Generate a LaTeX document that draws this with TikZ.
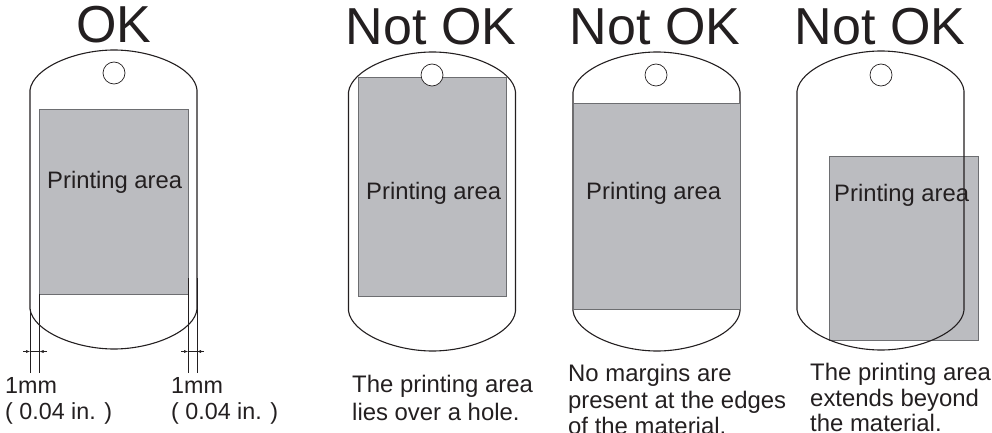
\documentclass[tikz,border=0pt]{standalone}
\usepackage{fontspec}
\setmainfont{Liberation Sans}
\usetikzlibrary{arrows.meta}
\definecolor{ink}{HTML}{231F20}
\definecolor{areafill}{HTML}{BBBCC0}
\definecolor{areaedge}{HTML}{6D6E71}
\tikzset{
  x=1pt,y=-1pt,
  outline/.style={draw=ink,line width=1.1pt},
  area/.style={fill=areafill,draw=areaedge,line width=1pt},
  holeshape/.style={draw=ink,fill=white,line width=.7pt},
  title/.style={anchor=base,inner sep=0,text=ink,font=\fontsize{52}{52}\selectfont},
  arealabel/.style={anchor=base west,inner sep=0,text=ink,font=\fontsize{23.8}{23.8}\selectfont},
  caption/.style={anchor=base west,inner sep=0,text=ink,font=\fontsize{23.9}{23.9}\selectfont},
  dimlabel/.style={anchor=base west,inner sep=0,text=ink,font=\fontsize{23.3}{23.3}\selectfont},
  guide/.style={draw=ink,line width=.6pt},
  dimtick/.style={draw=ink,line width=.5pt,-{Latex[length=4pt,width=3pt]}},
  dimbar/.style={draw=ink,line width=.5pt},
}
\newcommand{\tagshape}[2]{% left x, top y
  \draw[outline] (#1,#2+40) .. controls (#1+3,#2+18) and (#1+45,#2) .. (#1+84,#2)
    .. controls (#1+123,#2) and (#1+165,#2+18) .. (#1+167,#2+40)
    -- (#1+167,#2+259) .. controls (#1+165,#2+281) and (#1+123,#2+299) .. (#1+84,#2+299)
    .. controls (#1+45,#2+299) and (#1+3,#2+281) .. (#1,#2+259) -- cycle;
}
\begin{document}
\begin{tikzpicture}
\useasboundingbox (0,0) rectangle (992,433);
% OK
\node[title] (t1) at (114,43) {OK};
\tagshape{30}{50}
\draw[area] (39.5,110) rectangle (188,294);
\draw[holeshape] (114,73) circle (11);
\node[arealabel] (a1) at (47,188) {Printing area};
\coordinate (l1a) at (30,309); \coordinate (l1b) at (30,372.5);
\coordinate (l2a) at (39.5,294); \coordinate (l2b) at (39.5,372.5);
\coordinate (r1a) at (188,278); \coordinate (r1b) at (188,372.5);
\coordinate (r2a) at (197,278); \coordinate (r2b) at (197,372.5);
\draw[guide] (l1a) -- (l1b);
\draw[guide] (l2a) -- (l2b);
\draw[guide] (r1a) -- (r1b);
\draw[guide] (r2a) -- (r2b);
\coordinate (d1) at (23,351.5); \coordinate (d2) at (47,351.5);
\coordinate (d3) at (181,351.5); \coordinate (d4) at (204,351.5);
\draw[dimtick] (d1) -- (l1a |- d1);
\draw[dimtick] (d2) -- (l2a |- d2);
\draw[dimtick] (d3) -- (r1a |- d3);
\draw[dimtick] (d4) -- (r2a |- d4);
\draw[dimbar] (l1a |- d1) -- (l2a |- d1);
\draw[dimbar] (r1a |- d3) -- (r2a |- d3);
\node[dimlabel] (c1a) at (5,393.5) {1mm};
\node[dimlabel] (c1b) at (5,419) {( 0.04 in. )};
\node[dimlabel] (c1c) at (171,393.5) {1mm};
\node[dimlabel] (c1d) at (171,419) {( 0.04 in. )};
% hole
\node[title] (t2) at (431,45) {Not OK};
\tagshape{348.5}{52}
\draw[area] (358,78) rectangle (506,296);
\draw[holeshape] (432,75) circle (11);
\node[arealabel] (a2) at (366,199) {Printing area};
\node[caption] (c2a) at (352,392.7) {The printing area};
\node[caption] (c2b) at (352,420) {lies over a hole.};
% margins
\node[title] (t3) at (655,45) {Not OK};
\tagshape{573}{52}
\draw[area] (573,104) rectangle (740,309);
\draw[holeshape] (656,75) circle (11);
\node[arealabel] (a3) at (586,199) {Printing area};
\node[caption] (c3a) at (568,381.5) {No margins are};
\node[caption] (c3b) at (568,408) {present at the edges};
\node[caption] (c3c) at (568,434) {of the material.};
% beyond
\node[title] (t4) at (880,45) {Not OK};
\draw[area] (829.5,156) rectangle (978,340);
\tagshape{797}{51}
\draw[holeshape] (881,75) circle (11);
\node[arealabel] (a4) at (834,201) {Printing area};
\node[caption] (c4a) at (810,380) {The printing area};
\node[caption] (c4b) at (810,406.7) {extends beyond};
\node[caption] (c4c) at (810,431.7) {the material.};
\end{tikzpicture}
\end{document}
